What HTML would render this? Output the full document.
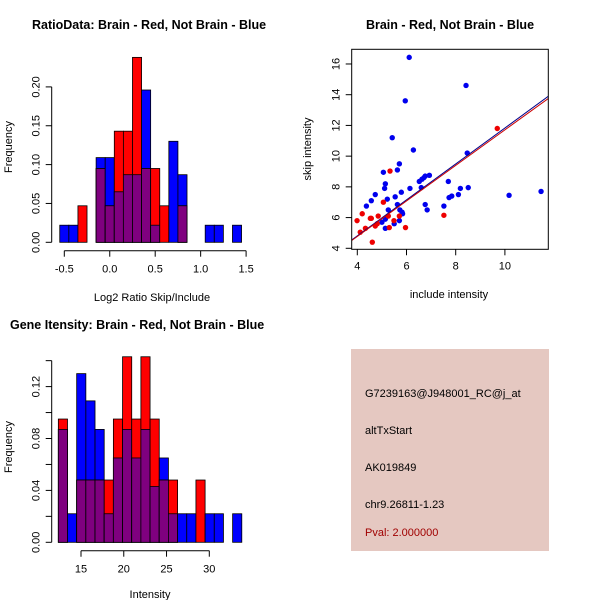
<!DOCTYPE html>
<html><head><meta charset="utf-8"><style>
body{margin:0;background:#fff}
svg{display:block;font-family:"Liberation Sans",sans-serif}
</style></head><body>
<svg id="c" width="600" height="600" xmlns="http://www.w3.org/2000/svg">
<rect width="600" height="600" fill="#fff"/>
<g id="p1"></g>
<g id="p2"></g>
<g id="p3"></g>
<g>
<rect x="351" y="349" width="198" height="202" fill="#e5c8c1"/>
<text x="365" y="397" font-size="11" fill="#000">G7239163@J948001_RC@j_at</text>
<text x="365" y="434" font-size="11" fill="#000">altTxStart</text>
<text x="365" y="471" font-size="11" fill="#000">AK019849</text>
<text x="365" y="508" font-size="11" fill="#000">chr9.26811-1.23</text>
<text x="365" y="536" font-size="11" fill="#a00000">Pval: 2.000000</text>
</g>
</svg>
<script>
// Ratio histogram data (bins of 0.1 starting at -0.55)
const ratioBinStart = -0.55, ratioBinWidth = 0.1;
const ratioBlue = [0.022,0.022,0,0,0.109,0.109,0.065,0.087,0.087,0.196,0.022,0,0.130,0.087,0,0,0.022,0.022,0,0.022];
const ratioRed  = [0,0,0.047,0,0.095,0.047,0.143,0.143,0.238,0.095,0.095,0.047,0,0.047,0,0,0,0,0,0];
const ratioXTicks = [-0.5,0.0,0.5,1.0,1.5];
const ratioXTickLabels = ["-0.5","0.0","0.5","1.0","1.5"];
const ratioYTicks = [0,0.05,0.10,0.15,0.20];
const ratioYTickLabels = ["0.00","0.05","0.10","0.15","0.20"];
// Gene intensity histogram
const intBinStart = 12.35, intBinWidth = 1.0725;
const intBlue = [0.087,0.022,0.130,0.109,0.087,0.022,0.065,0.087,0.065,0.087,0.043,0.065,0.022,0.022,0.022,0,0.022,0.022,0,0.022];
const intRed  = [0.095,0,0.048,0.048,0.048,0.048,0.095,0.143,0.095,0.143,0.095,0.048,0.048,0,0,0.048,0,0,0,0];
const intXTicks = [15,20,25,30];
const intXTickLabels = ["15","20","25","30"];
const intYTicks = [0,0.02,0.04,0.06,0.08,0.10,0.12,0.14];
const intYTickLabels = ["0.00","","0.04","","0.08","","0.12",""];
// Scatter
const blueX = [6.11,8.42,5.95,5.42,6.28,8.47,5.71,5.63,5.06,5.14,5.11,4.73,4.57,4.37,5.22,5.54,5.79,6.14,5.63,5.26,5.73,5.82,5.84,5.71,5.50,5.14,5.0,5.14,6.52,6.63,6.71,6.76,6.93,6.60,6.76,6.84,7.70,7.73,7.84,8.11,8.19,8.51,7.52,10.17,11.47];
const blueY = [16.43,14.6,13.6,11.2,10.4,10.2,9.5,9.1,8.95,8.2,7.9,7.5,7.1,6.75,7.2,7.35,7.65,7.9,6.85,6.5,6.5,6.35,6.25,5.8,5.6,5.9,5.7,5.3,8.35,8.5,8.6,8.7,8.75,7.95,6.85,6.5,8.35,7.3,7.4,7.5,7.9,7.95,6.75,7.45,7.7];
const redX = [3.99,4.12,4.20,4.33,4.53,4.57,4.61,4.73,4.85,4.81,5.06,5.26,5.33,5.30,5.49,5.71,5.96,7.52,9.69];
const redY = [5.8,5.05,6.25,5.3,5.95,5.95,4.4,5.45,6.1,5.6,7.0,6.1,9.03,5.35,5.8,6.1,5.35,6.15,11.8];
const blueFit = [0.13,1.17];
const redFit = [0.14,1.157];
const scXTicks = [4,6,8,10];
const scYTicks = [4,6,8,10,12,14,16];

const NS="http://www.w3.org/2000/svg";
function mk(parent,tag,attrs,txt){const e=document.createElementNS(NS,tag);for(const k in attrs)e.setAttribute(k,attrs[k]);if(txt!==undefined)e.textContent=txt;parent.appendChild(e);return e;}

function hist(g,o){
  const X=v=>o.x0+(v-o.vx0)*o.kx, Y=v=>o.y0-v*o.ky;
  const n=o.blue.length;
  for(let i=0;i<n;i++){
    const a=o.bs+i*o.bw,b=a+o.bw;
    const b1=o.blue[i],r1=o.red[i],m=Math.min(b1,r1);
    if(b1>0){const r=mk(g,'rect',{x:X(a),y:Y(b1),width:X(b)-X(a),height:Y(0)-Y(b1),fill:'#0000ff',stroke:'#000','stroke-width':0.8});
      
      }
    if(r1>0){const r=mk(g,'rect',{x:X(a),y:Y(r1),width:X(b)-X(a),height:Y(0)-Y(r1),fill:'#ff0000',stroke:'#000','stroke-width':0.8});
      
      }
    if(m>0){const r=mk(g,'rect',{x:X(a),y:Y(m),width:X(b)-X(a),height:Y(0)-Y(m),fill:'#7f007f',stroke:'#000','stroke-width':0.8});
      
      }
  }
  // y axis
  const ya=mk(g,'g',{});
  
  
  const yl=o.yTicks;
  mk(ya,'line',{x1:o.ax,x2:o.ax,y1:Y(yl[0]),y2:Y(yl[yl.length-1]),stroke:'#000'});
  yl.forEach((t,i)=>{mk(ya,'line',{x1:o.ax-6,x2:o.ax,y1:Y(t),y2:Y(t),stroke:'#000'});
    if(o.yLab[i]){const tx=mk(ya,'text',{x:o.ax-12,y:Y(t),'font-size':11,'text-anchor':'middle',transform:`rotate(-90 ${o.ax-12} ${Y(t)})`},o.yLab[i]);
      
      }});
  const xa=mk(g,'g',{});
  
  
  const xl=o.xTicks;
  mk(xa,'line',{x1:X(xl[0]),x2:X(xl[xl.length-1]),y1:o.ay,y2:o.ay,stroke:'#000'});
  xl.forEach((t,i)=>{mk(xa,'line',{x1:X(t),x2:X(t),y1:o.ay,y2:o.ay+6,stroke:'#000'});
    const tx=mk(xa,'text',{x:X(t),y:o.ay+22,'font-size':11,'text-anchor':'middle'},o.xLab[i]);
    
    });
}

const p1=document.getElementById('p1');
hist(p1,{x0:64.3,vx0:-0.5,kx:90.9,y0:242.3,ky:777,bs:ratioBinStart,bw:ratioBinWidth,blue:ratioBlue,red:ratioRed,
  yTicks:ratioYTicks,yLab:ratioYTickLabels,xTicks:ratioXTicks,xLab:ratioXTickLabels,ax:51.7,ay:250.7});
let t=mk(p1,'text',{x:32,y:29,'font-size':12.5,'font-weight':'bold'},'RatioData: Brain - Red, Not Brain - Blue');

t=mk(p1,'text',{x:152,y:301,'font-size':11,'text-anchor':'middle'},'Log2 Ratio Skip/Include');

t=mk(p1,'text',{x:12,y:147,'font-size':11,'text-anchor':'middle',transform:'rotate(-90 12 147)'},'Frequency');


const p3=document.getElementById('p3');
hist(p3,{x0:81,vx0:15,kx:8.553,y0:542.3,ky:1297.5,bs:intBinStart,bw:intBinWidth,blue:intBlue,red:intRed,
  yTicks:intYTicks,yLab:intYTickLabels,xTicks:intXTicks,xLab:intXTickLabels,ax:51.7,ay:550.7});
t=mk(p3,'text',{x:10,y:329,'font-size':12.5,'font-weight':'bold'},'Gene Itensity: Brain - Red, Not Brain - Blue');

t=mk(p3,'text',{x:150,y:598,'font-size':11,'text-anchor':'middle'},'Intensity');

t=mk(p3,'text',{x:12,y:447,'font-size':11,'text-anchor':'middle',transform:'rotate(-90 12 447)'},'Frequency');


// scatter
const p2=document.getElementById('p2');
const SX=v=>357.3+(v-4)*24.6, SY=v=>248.3-(v-4)*15.36;
const box={l:351.7,r:548.3,t:49.3,b:249.3};
const cp=mk(p2,'clipPath',{id:'scClip'});mk(cp,'rect',{x:box.l,y:box.t,width:box.r-box.l,height:box.b-box.t});
[[blueX,blueY,'#0000ee','blue-point'],[redX,redY,'#ee0000','red-point']].forEach(([xs,ys,c,nm])=>{
  xs.forEach((x,i)=>{const d=mk(p2,'circle',{cx:SX(x),cy:SY(ys[i]),r:2.7,fill:c});
    
    });
});
[[blueFit,'#00008b','blue-fit-line'],[redFit,'#cc0000','red-fit-line']].forEach(([f,c,nm])=>{
  const xa=3.7,xb=11.9;
  const l=mk(p2,'line',{x1:SX(xa),y1:SY(f[0]+f[1]*xa),x2:SX(xb),y2:SY(f[0]+f[1]*xb),stroke:c,'stroke-width':1,'clip-path':'url(#scClip)'});
  
  
});
mk(p2,'rect',{x:box.l,y:box.t,width:box.r-box.l,height:box.b-box.t,fill:'none',stroke:'#000'});
scXTicks.forEach(v=>{mk(p2,'line',{x1:SX(v),x2:SX(v),y1:box.b,y2:box.b+6,stroke:'#000'});
  const tx=mk(p2,'text',{x:SX(v),y:box.b+20,'font-size':11,'text-anchor':'middle'},String(v));
  
  });
scYTicks.forEach(v=>{mk(p2,'line',{x1:box.l-6,x2:box.l,y1:SY(v),y2:SY(v),stroke:'#000'});
  const tx=mk(p2,'text',{x:box.l-12,y:SY(v),'font-size':11,'text-anchor':'middle',transform:`rotate(-90 ${box.l-12} ${SY(v)})`},String(v));
  
  });
t=mk(p2,'text',{x:450,y:29,'font-size':12.5,'font-weight':'bold','text-anchor':'middle'},'Brain - Red, Not Brain - Blue');

t=mk(p2,'text',{x:449,y:298,'font-size':11,'text-anchor':'middle'},'include intensity');

t=mk(p2,'text',{x:311,y:149,'font-size':11,'text-anchor':'middle',transform:'rotate(-90 311 149)'},'skip intensity');

</script>
</body></html>
